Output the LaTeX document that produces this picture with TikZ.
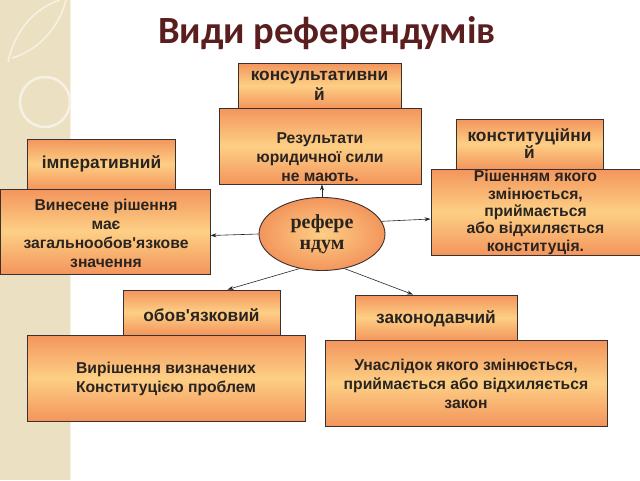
\documentclass[tikz,border=0pt]{standalone}
\usepackage{fontspec}
\setmainfont{Liberation Sans}[Ligatures=TeXOff]
\newfontfamily\ttlfont{Carlito}
\newfontfamily\serfont{Liberation Serif}
\usetikzlibrary{arrows.meta,shapes.geometric,calc}
\definecolor{orD}{HTML}{F3955C}
\definecolor{orL}{HTML}{FDCF85}
\definecolor{bord}{HTML}{3A3030}
\definecolor{ttl}{HTML}{5A1E1E}
\definecolor{strip}{HTML}{EBE1C2}
\definecolor{txt}{HTML}{2A2420}
\begin{document}
\begin{tikzpicture}[x=1pt,y=-1pt,
  box/.style={draw=bord, line width=0.9pt, top color=orD, bottom color=orD, middle color=orL,
    inner sep=0pt},
  hdr/.style={box, align=center, text=txt, font=\bfseries\fontsize{17.3}{19}\selectfont},
  htxt/.style={align=center, text=txt, inner sep=0pt, font=\bfseries\fontsize{17.3}{19}\selectfont},
  txtn/.style={align=center, text=txt, inner sep=0pt, font=\bfseries\fontsize{15.7}{19}\selectfont},
  conn/.style={-{Stealth[length=6pt,width=4pt]}, line width=0.6pt, draw=black!85}]
\useasboundingbox (0,0) rectangle (640,480);
\fill[white] (0,0) rectangle (640,480);
\fill[strip] (0,0) rectangle (70,480);
\draw[white!55!strip, line width=1pt] (70,0) -- (70,480);
\draw[white!55!strip, line width=2.5pt] (45,102) circle (25);
\draw[white!55!strip, line width=1.5pt] (8,62) .. controls (15,30) and (35,8) .. (60,0);
\draw[white!55!strip, line width=1.5pt] (12,58) .. controls (40,50) and (60,25) .. (66,0);
% title
\node[font=\ttlfont\bfseries\fontsize{38.5}{42}\selectfont, text=ttl] (title) at (327,33) {Види референдумів};
% boxes
\node[hdr, minimum width=163pt, minimum height=45pt] (h1) at (319.5,85.5) {консультативни\\[1pt]й};
\node[box, minimum width=202pt, minimum height=76pt] (b1) at (320,146) {};
\node[txtn] (t1) at (320,157) {Результати\\юридичної сили\\не мають.};
\node[hdr, minimum width=148pt, minimum height=50pt] (h2) at (101.5,164) {імперативний};
\node[box, minimum width=210pt, minimum height=85pt] (b2) at (105,231.5) {};
\node[txtn] (t2) at (106,233.5) {Винесене рішення\\має\\загальнообов'язкове\\значення};
\node[hdr, minimum width=147pt, minimum height=50pt] (h3) at (529.5,144) {конституційни\\[-2pt]й};
\node[box, minimum width=209pt, minimum height=86pt] (b3) at (535.5,212) {};
\node[txtn, font=\bfseries\fontsize{15.7}{17.3}\selectfont] (t3) at (535.5,212.5) {Рішенням якого\\змінюється,\\приймається\\або відхиляється\\конституція.};
\node[box, minimum width=157pt, minimum height=45pt] (h4) at (201.5,312.5) {};
\node[htxt] (t4a) at (201.5,315) {обов'язковий};
\node[box, minimum width=278pt, minimum height=86pt] (b4) at (166,378) {};
\node[txtn] (t4) at (166,378.5) {Вирішення визначених\\Конституцією проблем};
\node[box, minimum width=162pt, minimum height=45pt] (h5) at (436,317.5) {};
\node[htxt] (t5a) at (436,319) {законодавчий};
\node[box, minimum width=282pt, minimum height=86pt] (b5) at (466,383) {};
\node[txtn] (t5) at (466,384) {Унаслідок якого змінюється,\\приймається або відхиляється\\закон};
% centre
\node[ellipse, draw=bord, line width=0.9pt, inner color=orL, outer color=orD, minimum width=126pt, minimum height=73pt,
  align=center, text=txt, font=\serfont\bfseries\fontsize{20}{20.5}\selectfont] (c) at (322,234) {рефере\\ндум};
% connectors
\draw[conn] (c.north) -- (c.north |- b1.south);
\draw[conn] (c.west) -- ($(b2.east)+(0,4)$);
\draw[conn] (c.12) -- ($(b3.west)+(0,7)$);
\draw[conn] (c.237) -- ($(h4.north)+(26,0)$);
\draw[conn] (c.303) -- ($(h5.north)+(-23,0)$);
\end{tikzpicture}
\end{document}
